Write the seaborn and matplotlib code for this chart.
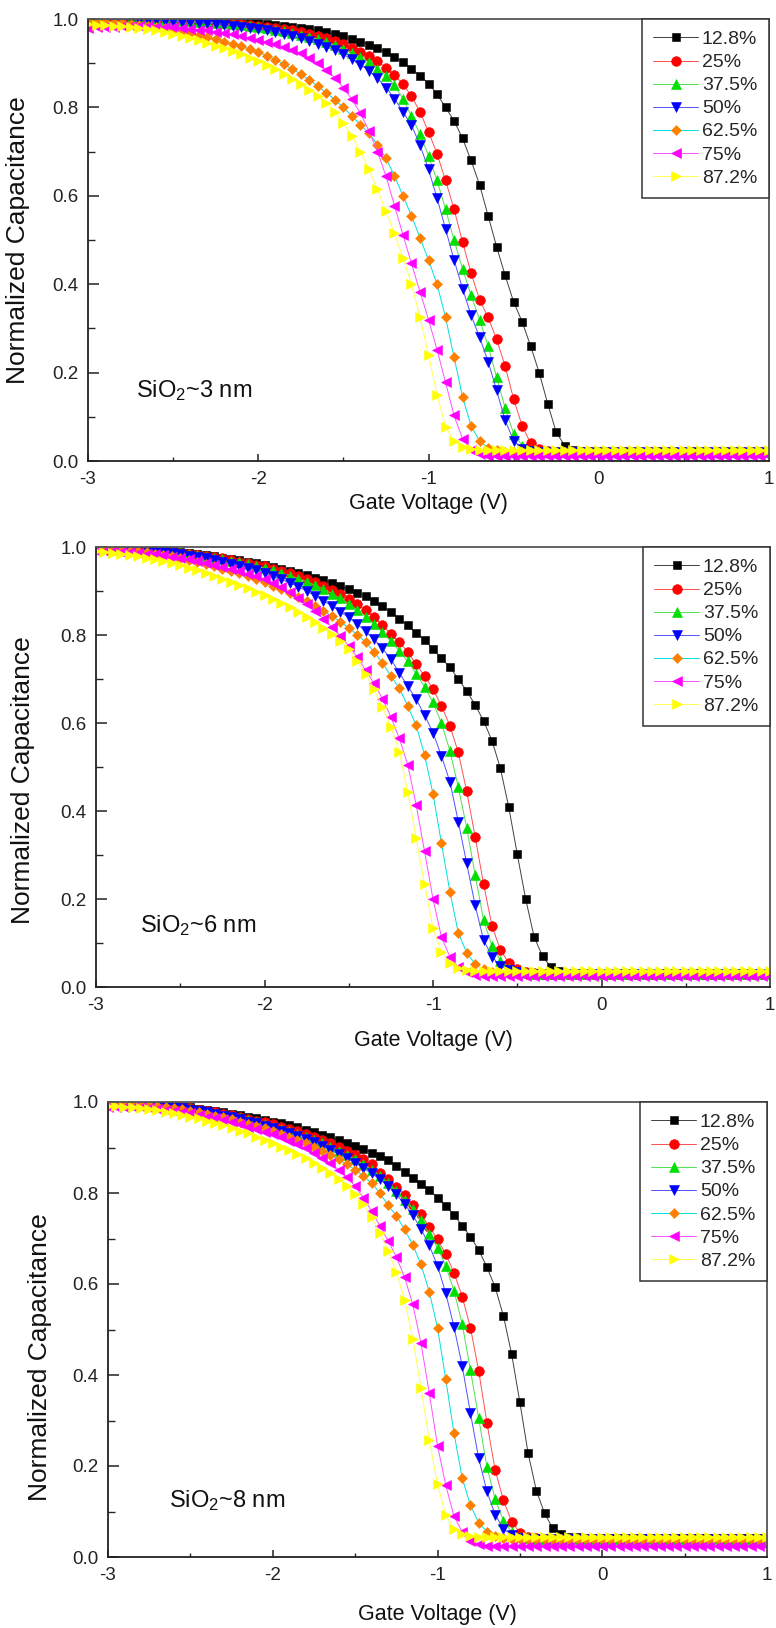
import numpy as np
import matplotlib
matplotlib.use("Agg")
import matplotlib.pyplot as plt
import seaborn as sns
from matplotlib.ticker import MultipleLocator, FormatStrFormatter

# Gate voltage sweep (V), 0.05 V step
gate_voltage = np.linspace(-3.0, 1.0, 81)

series_labels = ["12.8%", "25%", "37.5%", "50%", "62.5%", "75%", "87.2%"]
marker_colors = ["#000000", "#FF0000", "#00E000", "#0000FF", "#FF8000", "#FF00FF", "#FFFF00"]
line_colors = ["#404040", "#FF5050", "#50E050", "#5050FF", "#00E0E0", "#FF50FF", "#FFFF50"]
marker_shapes = ["s", "o", "^", "v", "D", "<", ">"]
marker_sizes = [6.2, 7.0, 7.8, 7.8, 5.4, 7.8, 7.8]

panel_notes = ["SiO$_2$~3 nm", "SiO$_2$~6 nm", "SiO$_2$~8 nm"]
x_ticks = [-3, -2, -1, 0, 1]
y_ticks = [0.0, 0.2, 0.4, 0.6, 0.8, 1.0]

# ---- SiO2 ~3 nm: normalized capacitance ----
ox3_128 = [
    1.000, 1.000, 1.000, 1.000, 1.000, 1.000, 1.000, 0.999, 0.999, 0.999,
    0.999, 0.998, 0.998, 0.997, 0.997, 0.996, 0.995, 0.994, 0.993, 0.992,
    0.991, 0.989, 0.987, 0.985, 0.983, 0.980, 0.977, 0.974, 0.970, 0.966,
    0.961, 0.955, 0.949, 0.942, 0.934, 0.925, 0.914, 0.902, 0.888, 0.872,
    0.854, 0.830, 0.800, 0.770, 0.730, 0.680, 0.625, 0.555, 0.485, 0.420,
    0.360, 0.315, 0.260, 0.200, 0.130, 0.065, 0.035, 0.025, 0.022, 0.021,
    0.020, 0.020, 0.020, 0.020, 0.020, 0.020, 0.020, 0.020, 0.020, 0.020,
    0.020, 0.020, 0.020, 0.020, 0.020, 0.020, 0.020, 0.020, 0.020, 0.020,
    0.020]
ox3_250 = [
    1.000, 1.000, 1.000, 1.000, 1.000, 0.999, 0.999, 0.999, 0.998, 0.998,
    0.997, 0.997, 0.996, 0.995, 0.994, 0.993, 0.992, 0.990, 0.989, 0.987,
    0.985, 0.983, 0.980, 0.977, 0.974, 0.970, 0.966, 0.961, 0.956, 0.950,
    0.943, 0.935, 0.926, 0.916, 0.904, 0.890, 0.873, 0.853, 0.825, 0.790,
    0.745, 0.695, 0.635, 0.570, 0.495, 0.425, 0.365, 0.325, 0.275, 0.215,
    0.140, 0.080, 0.040, 0.027, 0.022, 0.020, 0.020, 0.020, 0.020, 0.020,
    0.020, 0.020, 0.020, 0.020, 0.020, 0.020, 0.020, 0.020, 0.020, 0.020,
    0.020, 0.020, 0.020, 0.020, 0.020, 0.020, 0.020, 0.020, 0.020, 0.020,
    0.020]
ox3_375 = [
    1.000, 1.000, 1.000, 1.000, 0.999, 0.999, 0.999, 0.998, 0.998, 0.997,
    0.996, 0.996, 0.995, 0.994, 0.993, 0.991, 0.990, 0.988, 0.986, 0.984,
    0.982, 0.979, 0.976, 0.972, 0.968, 0.964, 0.959, 0.954, 0.948, 0.941,
    0.933, 0.924, 0.914, 0.902, 0.888, 0.872, 0.850, 0.820, 0.780, 0.740,
    0.690, 0.635, 0.570, 0.500, 0.435, 0.375, 0.320, 0.260, 0.190, 0.120,
    0.062, 0.035, 0.025, 0.021, 0.020, 0.020, 0.020, 0.020, 0.020, 0.020,
    0.020, 0.020, 0.020, 0.020, 0.020, 0.020, 0.020, 0.020, 0.020, 0.020,
    0.020, 0.020, 0.020, 0.020, 0.020, 0.020, 0.020, 0.020, 0.020, 0.020,
    0.020]
ox3_500 = [
    1.000, 1.000, 1.000, 0.999, 0.999, 0.999, 0.998, 0.998, 0.997, 0.996,
    0.995, 0.994, 0.993, 0.992, 0.990, 0.989, 0.987, 0.985, 0.983, 0.980,
    0.977, 0.974, 0.970, 0.966, 0.961, 0.956, 0.950, 0.944, 0.937, 0.929,
    0.920, 0.909, 0.897, 0.883, 0.866, 0.845, 0.820, 0.790, 0.760, 0.715,
    0.660, 0.595, 0.525, 0.455, 0.390, 0.330, 0.280, 0.225, 0.160, 0.092,
    0.046, 0.028, 0.022, 0.020, 0.020, 0.020, 0.020, 0.020, 0.020, 0.020,
    0.020, 0.020, 0.020, 0.020, 0.020, 0.020, 0.020, 0.020, 0.020, 0.020,
    0.020, 0.020, 0.020, 0.020, 0.020, 0.020, 0.020, 0.020, 0.020, 0.020,
    0.020]
ox3_625 = [
    0.995, 0.994, 0.993, 0.992, 0.990, 0.989, 0.987, 0.985, 0.982, 0.979,
    0.976, 0.972, 0.968, 0.963, 0.959, 0.954, 0.949, 0.944, 0.938, 0.932,
    0.925, 0.917, 0.908, 0.898, 0.887, 0.875, 0.862, 0.848, 0.833, 0.817,
    0.800, 0.781, 0.760, 0.742, 0.716, 0.685, 0.645, 0.600, 0.555, 0.505,
    0.455, 0.400, 0.325, 0.235, 0.145, 0.080, 0.045, 0.030, 0.024, 0.021,
    0.020, 0.020, 0.020, 0.020, 0.020, 0.020, 0.020, 0.020, 0.020, 0.020,
    0.020, 0.020, 0.020, 0.020, 0.020, 0.020, 0.020, 0.020, 0.020, 0.020,
    0.020, 0.020, 0.020, 0.020, 0.020, 0.020, 0.020, 0.020, 0.020, 0.020,
    0.020]
ox3_750 = [
    0.980, 0.981, 0.982, 0.983, 0.984, 0.984, 0.984, 0.984, 0.983, 0.982,
    0.981, 0.980, 0.978, 0.976, 0.974, 0.971, 0.968, 0.965, 0.961, 0.957,
    0.953, 0.948, 0.943, 0.937, 0.930, 0.922, 0.912, 0.900, 0.885, 0.867,
    0.845, 0.818, 0.787, 0.747, 0.700, 0.645, 0.578, 0.512, 0.447, 0.383,
    0.320, 0.252, 0.178, 0.103, 0.050, 0.025, 0.015, 0.012, 0.012, 0.012,
    0.012, 0.012, 0.012, 0.012, 0.012, 0.012, 0.012, 0.012, 0.012, 0.012,
    0.012, 0.012, 0.012, 0.012, 0.012, 0.012, 0.012, 0.012, 0.012, 0.012,
    0.012, 0.012, 0.012, 0.012, 0.012, 0.012, 0.012, 0.012, 0.012, 0.012,
    0.012]
ox3_872 = [
    0.988, 0.987, 0.986, 0.985, 0.984, 0.982, 0.980, 0.977, 0.974, 0.970,
    0.966, 0.962, 0.957, 0.952, 0.946, 0.940, 0.934, 0.927, 0.920, 0.912,
    0.904, 0.896, 0.888, 0.876, 0.864, 0.853, 0.840, 0.825, 0.810, 0.790,
    0.765, 0.735, 0.700, 0.660, 0.615, 0.565, 0.515, 0.460, 0.400, 0.325,
    0.240, 0.150, 0.078, 0.045, 0.032, 0.028, 0.026, 0.025, 0.025, 0.025,
    0.025, 0.025, 0.025, 0.025, 0.025, 0.025, 0.025, 0.025, 0.025, 0.025,
    0.025, 0.025, 0.025, 0.025, 0.025, 0.025, 0.025, 0.025, 0.025, 0.025,
    0.025, 0.025, 0.025, 0.025, 0.025, 0.025, 0.025, 0.025, 0.025, 0.025,
    0.025]

# ---- SiO2 ~6 nm ----
ox6_128 = [
    1.000, 1.000, 0.999, 0.998, 0.997, 0.996, 0.995, 0.993, 0.992, 0.990,
    0.988, 0.986, 0.984, 0.981, 0.979, 0.976, 0.973, 0.970, 0.967, 0.963,
    0.959, 0.955, 0.951, 0.946, 0.941, 0.936, 0.930, 0.924, 0.918, 0.911,
    0.904, 0.896, 0.888, 0.877, 0.865, 0.853, 0.837, 0.822, 0.805, 0.789,
    0.768, 0.747, 0.727, 0.700, 0.673, 0.641, 0.605, 0.560, 0.497, 0.408,
    0.302, 0.200, 0.114, 0.070, 0.045, 0.036, 0.032, 0.030, 0.030, 0.030,
    0.030, 0.030, 0.030, 0.030, 0.030, 0.030, 0.030, 0.030, 0.030, 0.030,
    0.030, 0.030, 0.030, 0.030, 0.030, 0.030, 0.030, 0.030, 0.030, 0.030,
    0.030]
ox6_250 = [
    1.000, 1.000, 0.999, 0.998, 0.997, 0.996, 0.994, 0.993, 0.991, 0.989,
    0.987, 0.985, 0.982, 0.980, 0.977, 0.974, 0.971, 0.967, 0.964, 0.960,
    0.956, 0.951, 0.946, 0.940, 0.934, 0.927, 0.920, 0.912, 0.903, 0.893,
    0.882, 0.870, 0.856, 0.840, 0.822, 0.802, 0.783, 0.762, 0.733, 0.707,
    0.677, 0.639, 0.594, 0.533, 0.445, 0.342, 0.234, 0.139, 0.084, 0.055,
    0.042, 0.035, 0.032, 0.030, 0.030, 0.030, 0.030, 0.030, 0.030, 0.030,
    0.030, 0.030, 0.030, 0.030, 0.030, 0.030, 0.030, 0.030, 0.030, 0.030,
    0.030, 0.030, 0.030, 0.030, 0.030, 0.030, 0.030, 0.030, 0.030, 0.030,
    0.030]
ox6_375 = [
    1.000, 1.000, 0.999, 0.998, 0.997, 0.995, 0.994, 0.992, 0.990, 0.988,
    0.986, 0.984, 0.981, 0.978, 0.975, 0.972, 0.969, 0.965, 0.961, 0.957,
    0.952, 0.947, 0.941, 0.935, 0.928, 0.921, 0.913, 0.904, 0.894, 0.883,
    0.871, 0.857, 0.842, 0.825, 0.806, 0.786, 0.764, 0.740, 0.712, 0.682,
    0.647, 0.600, 0.537, 0.455, 0.362, 0.255, 0.152, 0.093, 0.060, 0.044,
    0.036, 0.032, 0.030, 0.030, 0.030, 0.030, 0.030, 0.030, 0.030, 0.030,
    0.030, 0.030, 0.030, 0.030, 0.030, 0.030, 0.030, 0.030, 0.030, 0.030,
    0.030, 0.030, 0.030, 0.030, 0.030, 0.030, 0.030, 0.030, 0.030, 0.030,
    0.030]
ox6_500 = [
    1.000, 1.000, 0.999, 0.998, 0.996, 0.995, 0.993, 0.991, 0.989, 0.986,
    0.983, 0.980, 0.977, 0.974, 0.970, 0.966, 0.962, 0.957, 0.953, 0.948,
    0.942, 0.935, 0.927, 0.919, 0.910, 0.900, 0.889, 0.878, 0.866, 0.853,
    0.840, 0.825, 0.808, 0.790, 0.770, 0.745, 0.714, 0.684, 0.654, 0.618,
    0.578, 0.525, 0.467, 0.376, 0.281, 0.186, 0.107, 0.069, 0.048, 0.038,
    0.033, 0.030, 0.030, 0.030, 0.030, 0.030, 0.030, 0.030, 0.030, 0.030,
    0.030, 0.030, 0.030, 0.030, 0.030, 0.030, 0.030, 0.030, 0.030, 0.030,
    0.030, 0.030, 0.030, 0.030, 0.030, 0.030, 0.030, 0.030, 0.030, 0.030,
    0.030]
ox6_625 = [
    0.998, 0.997, 0.996, 0.994, 0.992, 0.990, 0.988, 0.985, 0.982, 0.979,
    0.975, 0.971, 0.966, 0.961, 0.956, 0.951, 0.946, 0.940, 0.934, 0.927,
    0.920, 0.912, 0.904, 0.896, 0.887, 0.877, 0.866, 0.855, 0.843, 0.830,
    0.816, 0.801, 0.784, 0.762, 0.736, 0.707, 0.679, 0.639, 0.595, 0.527,
    0.439, 0.327, 0.217, 0.123, 0.078, 0.052, 0.040, 0.034, 0.031, 0.030,
    0.030, 0.030, 0.030, 0.030, 0.030, 0.030, 0.030, 0.030, 0.030, 0.030,
    0.030, 0.030, 0.030, 0.030, 0.030, 0.030, 0.030, 0.030, 0.030, 0.030,
    0.030, 0.030, 0.030, 0.030, 0.030, 0.030, 0.030, 0.030, 0.030, 0.030,
    0.030]
ox6_750 = [
    0.990, 0.990, 0.990, 0.989, 0.988, 0.987, 0.985, 0.983, 0.981, 0.978,
    0.975, 0.972, 0.968, 0.964, 0.960, 0.955, 0.950, 0.945, 0.939, 0.933,
    0.927, 0.918, 0.909, 0.897, 0.885, 0.870, 0.854, 0.837, 0.818, 0.798,
    0.775, 0.750, 0.720, 0.690, 0.655, 0.614, 0.565, 0.505, 0.414, 0.308,
    0.200, 0.114, 0.069, 0.045, 0.033, 0.028, 0.026, 0.025, 0.025, 0.025,
    0.025, 0.025, 0.025, 0.025, 0.025, 0.025, 0.025, 0.025, 0.025, 0.025,
    0.025, 0.025, 0.025, 0.025, 0.025, 0.025, 0.025, 0.025, 0.025, 0.025,
    0.025, 0.025, 0.025, 0.025, 0.025, 0.025, 0.025, 0.025, 0.025, 0.025,
    0.025]
ox6_872 = [
    0.990, 0.989, 0.987, 0.985, 0.982, 0.979, 0.976, 0.972, 0.968, 0.963,
    0.958, 0.953, 0.947, 0.941, 0.935, 0.928, 0.921, 0.914, 0.906, 0.898,
    0.890, 0.881, 0.872, 0.863, 0.853, 0.842, 0.830, 0.817, 0.802, 0.786,
    0.768, 0.742, 0.712, 0.677, 0.637, 0.592, 0.535, 0.444, 0.338, 0.234,
    0.133, 0.080, 0.055, 0.044, 0.039, 0.037, 0.037, 0.037, 0.037, 0.037,
    0.037, 0.037, 0.037, 0.037, 0.037, 0.037, 0.037, 0.037, 0.037, 0.037,
    0.037, 0.037, 0.037, 0.037, 0.037, 0.037, 0.037, 0.037, 0.037, 0.037,
    0.037, 0.037, 0.037, 0.037, 0.037, 0.037, 0.037, 0.037, 0.037, 0.037,
    0.037]

# ---- SiO2 ~8 nm ----
ox8_128 = [
    1.000, 1.000, 0.999, 0.998, 0.997, 0.996, 0.995, 0.993, 0.992, 0.990,
    0.988, 0.985, 0.983, 0.980, 0.977, 0.974, 0.971, 0.968, 0.965, 0.961,
    0.957, 0.953, 0.949, 0.944, 0.939, 0.934, 0.928, 0.922, 0.916, 0.910,
    0.903, 0.896, 0.889, 0.882, 0.873, 0.860, 0.846, 0.833, 0.820, 0.806,
    0.790, 0.771, 0.752, 0.728, 0.704, 0.675, 0.637, 0.593, 0.530, 0.446,
    0.340, 0.228, 0.146, 0.096, 0.063, 0.050, 0.045, 0.043, 0.042, 0.042,
    0.042, 0.042, 0.042, 0.042, 0.042, 0.042, 0.042, 0.042, 0.042, 0.042,
    0.042, 0.042, 0.042, 0.042, 0.042, 0.042, 0.042, 0.042, 0.042, 0.042,
    0.042]
ox8_250 = [
    1.000, 1.000, 0.999, 0.998, 0.997, 0.995, 0.994, 0.992, 0.990, 0.988,
    0.986, 0.983, 0.980, 0.977, 0.974, 0.971, 0.967, 0.963, 0.959, 0.955,
    0.951, 0.946, 0.941, 0.936, 0.930, 0.924, 0.917, 0.910, 0.902, 0.893,
    0.884, 0.874, 0.863, 0.845, 0.830, 0.814, 0.796, 0.774, 0.753, 0.726,
    0.698, 0.666, 0.625, 0.572, 0.504, 0.409, 0.295, 0.191, 0.125, 0.078,
    0.053, 0.045, 0.041, 0.040, 0.040, 0.040, 0.040, 0.040, 0.040, 0.040,
    0.040, 0.040, 0.040, 0.040, 0.040, 0.040, 0.040, 0.040, 0.040, 0.040,
    0.040, 0.040, 0.040, 0.040, 0.040, 0.040, 0.040, 0.040, 0.040, 0.040,
    0.040]
ox8_375 = [
    1.000, 1.000, 0.999, 0.998, 0.996, 0.995, 0.993, 0.991, 0.989, 0.987,
    0.984, 0.981, 0.978, 0.975, 0.972, 0.968, 0.964, 0.960, 0.956, 0.951,
    0.946, 0.941, 0.936, 0.930, 0.924, 0.917, 0.910, 0.902, 0.893, 0.884,
    0.874, 0.863, 0.851, 0.838, 0.822, 0.805, 0.785, 0.765, 0.740, 0.710,
    0.680, 0.640, 0.585, 0.512, 0.411, 0.305, 0.198, 0.127, 0.080, 0.055,
    0.045, 0.041, 0.040, 0.040, 0.040, 0.040, 0.040, 0.040, 0.040, 0.040,
    0.040, 0.040, 0.040, 0.040, 0.040, 0.040, 0.040, 0.040, 0.040, 0.040,
    0.040, 0.040, 0.040, 0.040, 0.040, 0.040, 0.040, 0.040, 0.040, 0.040,
    0.040]
ox8_500 = [
    1.000, 1.000, 0.999, 0.997, 0.996, 0.994, 0.993, 0.991, 0.988, 0.986,
    0.983, 0.980, 0.977, 0.973, 0.970, 0.966, 0.962, 0.957, 0.953, 0.948,
    0.943, 0.937, 0.931, 0.925, 0.918, 0.911, 0.903, 0.895, 0.886, 0.876,
    0.866, 0.855, 0.843, 0.830, 0.815, 0.797, 0.776, 0.751, 0.721, 0.685,
    0.640, 0.580, 0.506, 0.420, 0.316, 0.217, 0.144, 0.093, 0.062, 0.048,
    0.042, 0.040, 0.040, 0.040, 0.040, 0.040, 0.040, 0.040, 0.040, 0.040,
    0.040, 0.040, 0.040, 0.040, 0.040, 0.040, 0.040, 0.040, 0.040, 0.040,
    0.040, 0.040, 0.040, 0.040, 0.040, 0.040, 0.040, 0.040, 0.040, 0.040,
    0.040]
ox8_625 = [
    0.999, 0.999, 0.998, 0.997, 0.995, 0.994, 0.992, 0.989, 0.987, 0.984,
    0.981, 0.978, 0.974, 0.970, 0.966, 0.962, 0.957, 0.952, 0.947, 0.942,
    0.936, 0.930, 0.924, 0.917, 0.910, 0.902, 0.893, 0.884, 0.874, 0.863,
    0.851, 0.837, 0.822, 0.800, 0.773, 0.750, 0.720, 0.686, 0.643, 0.583,
    0.504, 0.391, 0.272, 0.173, 0.114, 0.075, 0.056, 0.046, 0.042, 0.040,
    0.040, 0.040, 0.040, 0.040, 0.040, 0.040, 0.040, 0.040, 0.040, 0.040,
    0.040, 0.040, 0.040, 0.040, 0.040, 0.040, 0.040, 0.040, 0.040, 0.040,
    0.040, 0.040, 0.040, 0.040, 0.040, 0.040, 0.040, 0.040, 0.040, 0.040,
    0.040]
ox8_750 = [
    0.990, 0.990, 0.990, 0.989, 0.988, 0.987, 0.985, 0.983, 0.981, 0.978,
    0.975, 0.972, 0.968, 0.964, 0.960, 0.956, 0.951, 0.946, 0.941, 0.935,
    0.929, 0.922, 0.915, 0.907, 0.898, 0.888, 0.877, 0.865, 0.851, 0.835,
    0.815, 0.790, 0.760, 0.728, 0.695, 0.660, 0.615, 0.555, 0.470, 0.360,
    0.245, 0.158, 0.090, 0.055, 0.035, 0.028, 0.025, 0.025, 0.025, 0.025,
    0.025, 0.025, 0.025, 0.025, 0.025, 0.025, 0.025, 0.025, 0.025, 0.025,
    0.025, 0.025, 0.025, 0.025, 0.025, 0.025, 0.025, 0.025, 0.025, 0.025,
    0.025, 0.025, 0.025, 0.025, 0.025, 0.025, 0.025, 0.025, 0.025, 0.025,
    0.025]
ox8_872 = [
    0.992, 0.991, 0.990, 0.988, 0.986, 0.984, 0.982, 0.979, 0.976, 0.972,
    0.968, 0.964, 0.959, 0.954, 0.949, 0.943, 0.937, 0.931, 0.924, 0.917,
    0.910, 0.902, 0.894, 0.885, 0.876, 0.866, 0.855, 0.843, 0.830, 0.815,
    0.798, 0.775, 0.747, 0.713, 0.673, 0.627, 0.565, 0.480, 0.371, 0.257,
    0.160, 0.092, 0.062, 0.051, 0.047, 0.045, 0.045, 0.045, 0.045, 0.045,
    0.045, 0.045, 0.045, 0.045, 0.045, 0.045, 0.045, 0.045, 0.045, 0.045,
    0.045, 0.045, 0.045, 0.045, 0.045, 0.045, 0.045, 0.045, 0.045, 0.045,
    0.045, 0.045, 0.045, 0.045, 0.045, 0.045, 0.045, 0.045, 0.045, 0.045,
    0.045]

panels = [
    [ox3_128, ox3_250, ox3_375, ox3_500, ox3_625, ox3_750, ox3_872],
    [ox6_128, ox6_250, ox6_375, ox6_500, ox6_625, ox6_750, ox6_872],
    [ox8_128, ox8_250, ox8_375, ox8_500, ox8_625, ox8_750, ox8_872],
]

sns.set_theme(style="ticks")
plt.rcParams["font.family"] = ["Liberation Sans", "DejaVu Sans"]
plt.rcParams["mathtext.default"] = "regular"
plt.rcParams["axes.unicode_minus"] = False

W, H = 776, 1628
fig = plt.figure(figsize=(W / 100, H / 100), dpi=100)

# axes boxes in pixels: left, top, right, bottom
boxes = [(88, 19, 769, 461), (96, 547, 770, 987), (108, 1102, 767, 1557)]
note_pos = [(0.071, 0.16), (0.065, 0.14), (0.092, 0.125)]
xlabel_gap = [32, 43, 47]
ylabel_gap = [58, 61, 56]
ylabel_center = [0.5, 0.47, 0.44]

for k, (left, top, right, bottom) in enumerate(boxes):
    ax = fig.add_axes([left / W, 1 - bottom / H, (right - left) / W, (bottom - top) / H])
    for vals, lab, mc, lc, mk, ms in zip(panels[k], series_labels, marker_colors,
                                          line_colors, marker_shapes, marker_sizes):
        sns.lineplot(x=gate_voltage, y=vals, ax=ax, color=lc, linewidth=0.7,
                     marker=mk, markersize=ms, markerfacecolor=mc,
                     markeredgecolor=mc, markeredgewidth=0.4,
                     label=lab, errorbar=None, sort=False)

    ax.set_xlim(-3, 1)
    ax.set_ylim(0, 1.0)
    ax.set_xticks(x_ticks)
    ax.set_yticks(y_ticks)
    ax.xaxis.set_minor_locator(MultipleLocator(0.5))
    ax.yaxis.set_minor_locator(MultipleLocator(0.1))
    ax.xaxis.set_major_formatter(FormatStrFormatter("%d"))
    ax.yaxis.set_major_formatter(FormatStrFormatter("%.1f"))
    ax.tick_params(axis="x", which="major", direction="in", length=5, width=1.1,
                   pad=7, labelsize=13.5, colors="#222222")
    ax.tick_params(axis="x", which="minor", direction="in", length=3, width=1.0)
    ax.tick_params(axis="y", which="major", direction="in", length=8, width=1.1,
                   pad=7, labelsize=13.5, colors="#222222")
    ax.tick_params(axis="y", which="minor", direction="in", length=5, width=1.0)
    ax.tick_params(top=False, right=False, which="both")
    for name, sp in ax.spines.items():
        sp.set_visible(True)
        sp.set_linewidth(1.3)
        sp.set_color("#222222" if name in ("left", "bottom") else "#555555")

    ax.set_xlabel("Gate Voltage (V)", fontsize=15.5, color="#111111")
    ax.set_ylabel("Normalized Capacitance", fontsize=19, color="#111111")
    ax.xaxis.set_label_coords(0.5, -xlabel_gap[k] / (bottom - top))
    ax.yaxis.set_label_coords(-ylabel_gap[k] / (right - left), ylabel_center[k])

    ax.text(note_pos[k][0], note_pos[k][1], panel_notes[k], transform=ax.transAxes,
            fontsize=17, ha="left", va="center", color="#111111")

    leg = ax.legend(loc="upper right", borderaxespad=0, frameon=True, fancybox=False,
                    edgecolor="#333333", framealpha=1, fontsize=14, handlelength=2.3,
                    handletextpad=0.2, borderpad=0.6, labelspacing=0.28, numpoints=1)
    leg.get_frame().set_linewidth(1.1)

fig.savefig("out.png", dpi=100)
